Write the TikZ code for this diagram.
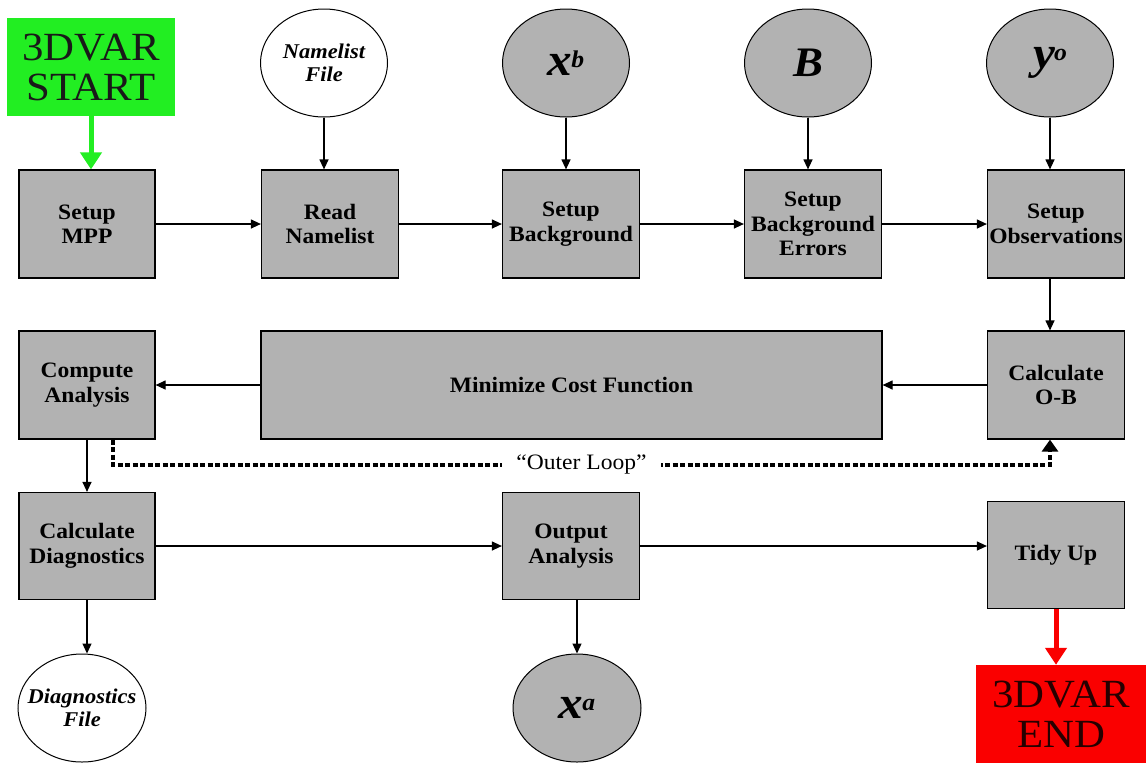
\documentclass[tikz,border=0pt]{standalone}
\usepackage{fontspec}
\setmainfont[FakeStretch=1.07]{Liberation Serif}
\usetikzlibrary{arrows.meta,shapes.geometric}
\definecolor{boxgray}{RGB}{178,178,178}
\definecolor{startgreen}{RGB}{34,238,34}
\definecolor{endred}{RGB}{250,0,0}
\newcommand{\supsym}[2]{#1\kern-1pt\raisebox{8pt}{\fontsize{24}{24}\selectfont #2}}

\begin{document}
\begin{tikzpicture}[x=1pt,y=-1pt,
    stepbox/.style={draw,line width=1.2pt,fill=boxgray,minimum width=137pt,minimum height=108pt,
      inner sep=0pt,align=center,font=\fontsize{22}{24.5}\selectfont\bfseries},
    datafile/.style={ellipse,draw,line width=1pt,minimum width=127pt,minimum height=108pt,
      inner sep=0pt,align=center,font=\fontsize{21}{23}\selectfont\bfseries\itshape},
    symfile/.style={datafile,fill=boxgray,font=\fontsize{46}{46}\selectfont\bfseries\itshape},
    endpoint/.style={minimum height=98pt,inner sep=0pt,align=center,font=\fontsize{40}{40}\selectfont},
    flow/.style={-{Triangle[length=10pt,width=9pt]},line width=1.2pt},
    bigflow/.style={-{Triangle[length=17pt,width=21pt]},line width=5pt},
    loopline/.style={-{Triangle[length=12pt,width=16pt]},line width=4pt,dash pattern=on 5pt off 2.5pt,line join=miter}]
  \useasboundingbox (0,0) rectangle (1146,764);

  % top row: inputs
  \node[endpoint,fill=startgreen,minimum width=168pt,text=black!90] (start) at (91,67) {3DVAR\\START};
  \node[datafile,fill=white] (nlfile) at (324,63) {Namelist\\File};
  \node[symfile] (xb) at (566,63) {\supsym{x}{b}};
  \node[symfile,font=\fontsize{42}{42}\selectfont\bfseries\itshape] (bmat) at (808,63) {B};
  \node[symfile] (yo) at (1050,63) {\supsym{y}{o}};

  % setup steps
  \node[stepbox,minimum width=136pt] (mpp) at (87,224) {Setup\\MPP};
  \node[stepbox] (readnl) at (330,224) {Read\\Namelist};
  \node[stepbox] (setbg) at (571,224) {Setup\\Background};
  \node[stepbox] (setbe) at (813,224) {Setup\\Background\\Errors};
  \node[stepbox] (setob) at (1056,224) {Setup\\Observations};

  % minimization
  \node[stepbox,minimum width=136pt] (compan) at (87,385) {Compute\\Analysis};
  \node[stepbox,minimum width=621pt] (mincost) at (571.5,385) {Minimize Cost Function};
  \node[stepbox] (calcob) at (1056,385) {Calculate\\O-B};

  % output
  \node[stepbox,minimum width=136pt,minimum height=107pt] (calcdiag) at (87,546) {Calculate\\Diagnostics};
  \node[stepbox,minimum height=107pt] (outana) at (571,546) {Output\\Analysis};
  \node[stepbox,minimum height=107pt] (tidy) at (1056,555) {Tidy Up};
  \node[datafile,fill=white,minimum width=128pt] (diagfile) at (82,708) {};
  \node[align=center,font=\fontsize{21}{23}\selectfont\bfseries\itshape] (diagtxt) at (diagfile) {Diagnostics\\File};
  \node[symfile,minimum width=128pt] (xa) at (577,708) {\supsym{x}{a}};
  \node[endpoint,fill=endred,minimum width=170pt,text=black!85!red] (finish) at (1061,714) {3DVAR\\END};

  \draw[bigflow,startgreen] (start.south) -- (start.south |- mpp.north);
  \draw[flow] (nlfile.south) -- (nlfile.south |- readnl.north);
  \draw[flow] (xb.south) -- (xb.south |- setbg.north);
  \draw[flow] (bmat.south) -- (bmat.south |- setbe.north);
  \draw[flow] (yo.south) -- (yo.south |- setob.north);

  \draw[flow] (mpp.east) -- (readnl.west);
  \draw[flow] (readnl.east) -- (setbg.west);
  \draw[flow] (setbg.east) -- (setbe.west);
  \draw[flow] (setbe.east) -- (setob.west);
  \draw[flow] (yo.south |- setob.south) -- (yo.south |- calcob.north);

  \draw[flow] (calcob.west) -- (mincost.east);
  \draw[flow] (mincost.west) -- (compan.east);
  \draw[flow] (compan.south -| calcdiag.south) -- (calcdiag.north);

  \coordinate (loopL) at (113,465);
  \coordinate (loopR) at (1050,465);
  \draw[loopline] (compan.south -| loopL) -- (loopL)
    -- node[fill=white,inner xsep=14pt,inner ysep=4pt,font=\fontsize{22}{22}\selectfont] (looptxt) {``Outer Loop''} (loopR)
    -- (loopR |- calcob.south);

  \draw[flow] (calcdiag.east) -- (outana.west);
  \draw[flow] (outana.east) -- (outana.east -| tidy.west);
  \draw[flow] (calcdiag.south) -- (calcdiag.south |- diagfile.north);
  \draw[flow] (xa.north |- outana.south) -- (xa.north);
  \draw[bigflow,endred] (tidy.south) -- (tidy.south |- finish.north);
\end{tikzpicture}
\end{document}
